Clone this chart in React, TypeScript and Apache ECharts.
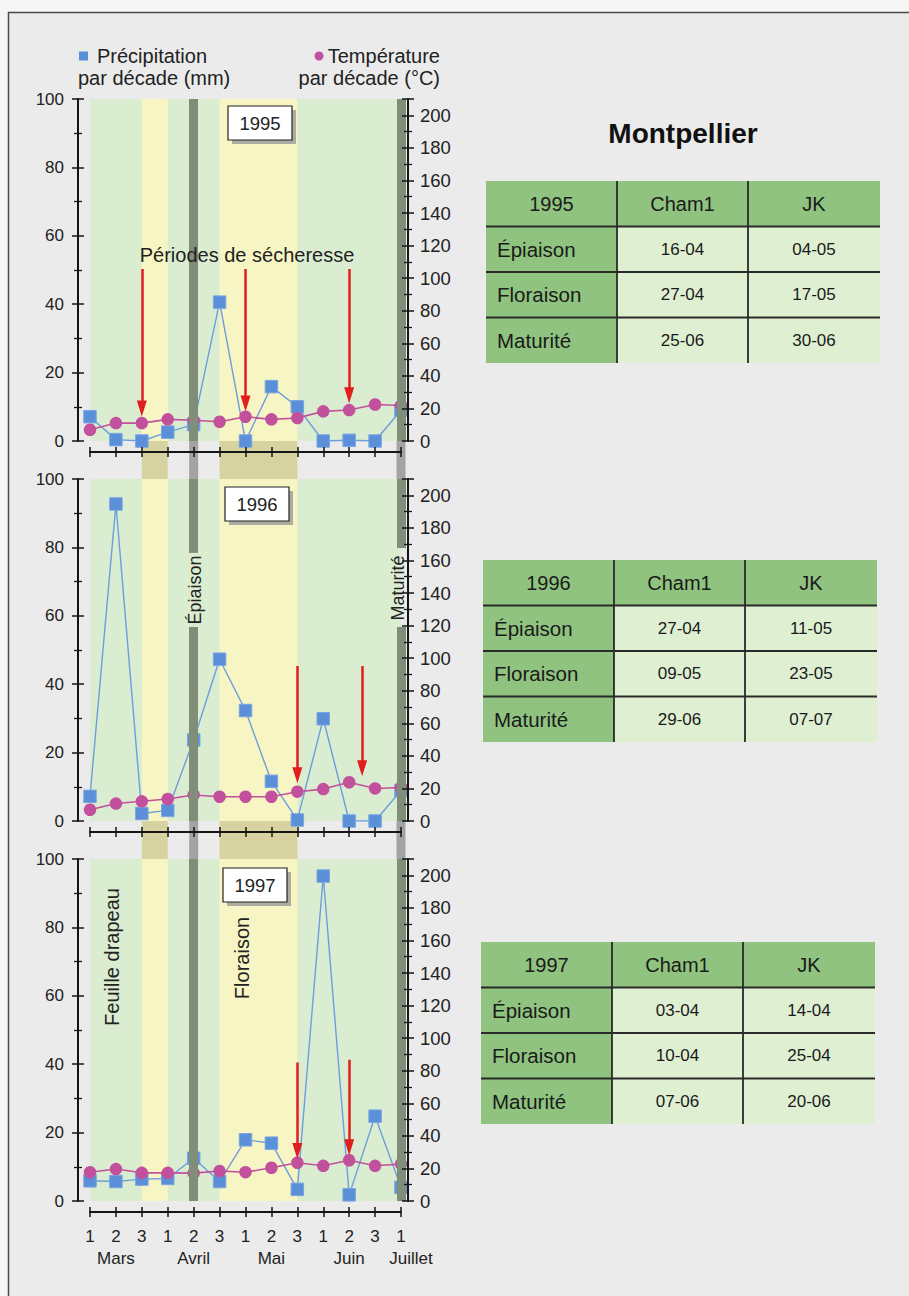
import React, { useEffect, useRef } from 'react';
import * as echarts from 'echarts';

// ---------- data ----------
const decades = ['1', '2', '3', '1', '2', '3', '1', '2', '3', '1', '2', '3', '1'];
const months = ['', 'Mars', '', '', 'Avril', '', '', 'Mai', '', '', 'Juin', '', 'Juillet'];
const years = ['1995', '1996', '1997'];

const precip1995 = [7.1, 0.4, 0, 2.6, 4.8, 40.6, 0, 15.9, 10.0, 0, 0.2, 0, 9.0];
const temp1995 = [6.9, 11.0, 11.0, 13.3, 12.7, 11.8, 14.9, 13.3, 14.1, 18.2, 19.0, 22.4, 21.8];
const precip1996 = [7.2, 92.7, 2.2, 3.1, 23.7, 47.3, 32.3, 11.6, 0.3, 29.9, 0, 0, 8.9];
const temp1996 = [6.9, 10.7, 12.1, 13.5, 16.0, 14.9, 14.9, 14.9, 18.0, 19.6, 23.8, 20.0, 20.6];
const precip1997 = [5.9, 5.7, 6.4, 6.6, 12.5, 5.7, 17.9, 16.9, 3.4, 95.0, 1.8, 24.8, 4.0];
const temp1997 = [17.7, 19.6, 17.3, 17.3, 17.1, 18.4, 17.7, 20.4, 23.5, 21.6, 25.0, 21.6, 22.7];

const precipitation = [precip1995, precip1996, precip1997];
const temperature = [temp1995, temp1996, temp1997];

const precipAxis = { min: 0, max: 100, interval: 20 };
const tempAxis = { min: 0, max: 210, interval: 20 };

// yellow bands (decade index ranges) and stage lines (Épiaison, Maturité)
const dryBands = [[2, 3], [5, 8]];
const stageLines = [4, 12];
// drought arrows: [decade index, start value, tip value] (precipitation scale)
const arrows1995 = [[2, 50.3, 7.1], [6, 50.3, 8.6], [10, 50.3, 11.0]];
const arrows1996 = [[8, 45.3, 11.0], [10.5, 45.3, 13.0]];
const arrows1997 = [[8, 40.5, 12.2], [10, 41.3, 13.3]];
const arrows = [arrows1995, arrows1996, arrows1997];

// tables
const tableHeader = ['Cham1', 'JK'];
const stages = ['Épiaison', 'Floraison', 'Maturité'];
const cham1Dates = [['16-04', '27-04', '25-06'], ['27-04', '09-05', '29-06'], ['03-04', '10-04', '07-06']];
const jkDates = [['04-05', '17-05', '30-06'], ['11-05', '23-05', '07-07'], ['14-04', '25-04', '20-06']];

// ---------- layout / style ----------
const W = 909;
const H = 1296;
const FONT = '"Liberation Sans", Arial, Helvetica, sans-serif';
const GRID_LEFT = 90;
const GRID_W = 311;
const GRID_H = 342;
const GRID_TOPS = [99, 479, 859];
const AX = '#151515';
const TXT = '#222';
const GREEN_BG = '#daedd0';
const YELLOW = '#f7f5c3';
const YELLOW_GAP = '#d7d3a0';
const BAR = '#7f8d79';
const BAR_GAP = '#a3a3a3';
const BLUE = '#5b8fd8';
const BLUE_LINE = '#6c9edc';
const PINK = '#c2509c';
const RED = '#e01e1e';
const TABLE_DARK = '#8fc37f';
const TABLE_LIGHT = '#dff0d2';

function buildOption() {
  const grid: any[] = [];
  const xAxis: any[] = [];
  const yAxis: any[] = [];
  const series: any[] = [];

  for (let g = 0; g < 3; g++) {
    grid.push({
      left: GRID_LEFT, top: GRID_TOPS[g], width: GRID_W, height: GRID_H,
      show: true, backgroundColor: GREEN_BG, borderWidth: 0,
    });
    const xLabel = g === 2
      ? {
          show: true, margin: 16, fontSize: 17, color: TXT, fontFamily: FONT,
          showMinLabel: true, showMaxLabel: true,
          formatter: (v: number) => decades[v],
        }
      : { show: false };
    const xBase = {
      gridIndex: g, type: 'value', min: 0, max: 12, interval: 1,
      position: 'bottom', offset: 11, splitLine: { show: false }, z: 6,
    };
    xAxis.push({
      ...xBase,
      axisLine: { show: true, onZero: false, lineStyle: { color: AX, width: 2 } },
      axisTick: { show: true, length: 5, lineStyle: { color: AX, width: 1.5 } },
      axisLabel: xLabel,
    });
    xAxis.push({
      ...xBase,
      axisLine: { show: false, onZero: false },
      axisTick: { show: true, inside: true, length: 5, lineStyle: { color: AX, width: 1.5 } },
      axisLabel: { show: false },
    });

    const yCommon = (inside: boolean) => ({
      gridIndex: g, type: 'value', splitLine: { show: false }, minorSplitLine: { show: false }, z: 6,
      axisLine: { show: !inside, onZero: false, lineStyle: { color: AX, width: 2 } },
      axisTick: { show: true, inside, length: 6, lineStyle: { color: AX, width: 1.5 } },
      minorTick: { show: true, splitNumber: 2, length: 4, lineStyle: { color: AX, width: 1.3 } },
    });
    // left (precipitation)
    yAxis.push({
      ...yCommon(false), ...precipAxis, position: 'left', offset: 12,
      axisLabel: { margin: 14, fontSize: 17, color: TXT, fontFamily: FONT },
    });
    yAxis.push({ ...yCommon(true), ...precipAxis, position: 'left', offset: 12, axisLabel: { show: false } });
    // right (temperature)
    yAxis.push({
      ...yCommon(false), ...tempAxis, position: 'right', offset: 7,
      axisLabel: {
        margin: 12, fontSize: 18.5, color: TXT, fontFamily: FONT,
        formatter: (v: number) => (v > 200 ? '' : String(v)),
      },
    });
    yAxis.push({ ...yCommon(true), ...tempAxis, position: 'right', offset: 7, axisLabel: { show: false } });

    // background bands + stage lines
    const barData: any[] = [];
    stageLines.forEach((x) => {
      if (g === 1) {
        const breakTop = x === 4 ? 78.4 : 79.8;
        barData.push([{ coord: [x, 100] }, { coord: [x, breakTop] }]);
        barData.push([{ coord: [x, 56.7] }, { coord: [x, 0] }]);
      } else {
        barData.push([{ coord: [x, 100] }, { coord: [x, 0] }]);
      }
    });
    series.push({
      type: 'line', xAxisIndex: 2 * g, yAxisIndex: 4 * g, data: [], z: 1, silent: true, clip: false,
      markArea: {
        silent: true, itemStyle: { color: YELLOW, opacity: 1 },
        label: { show: false },
        data: dryBands.map(([a, b]) => [{ xAxis: a }, { xAxis: b }]),
      },
      markLine: {
        silent: true, symbol: ['none', 'none'], label: { show: false },
        lineStyle: { color: BAR, width: 9, type: 'solid', opacity: 1 },
        emphasis: { disabled: true },
        data: barData,
      },
    });

    // precipitation
    series.push({
      type: 'line', name: 'Précipitation', xAxisIndex: 2 * g, yAxisIndex: 4 * g, z: 3,
      data: precipitation[g].map((v, i) => [i, v]),
      symbol: 'rect', symbolSize: 12.5,
      itemStyle: { color: BLUE, borderColor: '#7aa6e2', borderWidth: 1 },
      lineStyle: { color: BLUE_LINE, width: 1.4 },
    });
    // temperature
    series.push({
      type: 'line', name: 'Température', xAxisIndex: 2 * g, yAxisIndex: 4 * g + 2, z: 4,
      data: temperature[g].map((v, i) => [i, v]),
      symbol: 'circle', symbolSize: 12.5,
      itemStyle: { color: PINK },
      lineStyle: { color: PINK, width: 1.6 },
    });
    // arrows
    series.push({
      type: 'line', xAxisIndex: 2 * g, yAxisIndex: 4 * g, data: [], z: 5, silent: true,
      markLine: {
        silent: true, symbol: ['none', 'triangle'], label: { show: false },
        lineStyle: { color: RED, width: 2.5, type: 'solid', opacity: 1 },
        itemStyle: { color: RED },
        emphasis: { disabled: true },
        data: arrows[g].map(([x, top, tip]) => [
          { coord: [x, top] },
          { coord: [x, tip + 2.4], symbol: 'triangle', symbolSize: [10, 16] },
        ]),
      },
    });
  }

  return {
    animation: false,
    backgroundColor: '#ebebeb',
    grid, xAxis, yAxis, series,
  };
}

function buildGraphics(chart: any) {
  const els: any[] = [];
  // page frame
  els.push({ type: 'rect', shape: { x: 0, y: 0, width: W, height: 12 }, style: { fill: '#f6f6f6' }, silent: true });
  els.push({ type: 'rect', shape: { x: 0, y: 0, width: 8, height: H }, style: { fill: '#f6f6f6' }, silent: true });
  els.push({ type: 'line', shape: { x1: 8, y1: 12.5, x2: W, y2: 12.5 }, style: { stroke: '#4a4a4a', lineWidth: 1.5 }, silent: true });
  els.push({ type: 'line', shape: { x1: 8.5, y1: 12, x2: 8.5, y2: H }, style: { stroke: '#4a4a4a', lineWidth: 1.5 }, silent: true });

  // bands in the gaps between panels
  for (let g = 0; g < 2; g++) {
    const y0 = chart.convertToPixel({ yAxisIndex: 4 * g }, 0);
    const y1 = chart.convertToPixel({ yAxisIndex: 4 * (g + 1) }, 100);
    const px = (v: number) => chart.convertToPixel({ xAxisIndex: 2 * g }, v);
    dryBands.forEach(([a, b]) => {
      els.push({ type: 'rect', z: 0, silent: true, shape: { x: px(a), y: y0, width: px(b) - px(a), height: y1 - y0 }, style: { fill: YELLOW_GAP } });
    });
    stageLines.forEach((x) => {
      els.push({ type: 'rect', z: 0, silent: true, shape: { x: px(x) - 4.5, y: y0, width: 9, height: y1 - y0 }, style: { fill: BAR_GAP } });
    });
  }

  // month names under the bottom axis (centred on the middle decade)
  const yAxisBottom = chart.convertToPixel({ yAxisIndex: 8 }, 0);
  months.forEach((m, i) => {
    if (!m) return;
    const x = chart.convertToPixel({ xAxisIndex: 4 }, i) + (m === 'Juillet' ? 10 : 0);
    els.push({ type: 'text', z: 10, x, y: yAxisBottom + 57, style: { text: m, fontSize: 17, fontFamily: FONT, fill: TXT, align: 'center', verticalAlign: 'middle' } });
  });

  const F = 20;
  // legend
  els.push({ type: 'rect', z: 10, shape: { x: 79, y: 51.5, width: 9, height: 9 }, style: { fill: BLUE } });
  els.push({ type: 'text', z: 10, x: 97, y: 56, style: { text: 'Précipitation', fontSize: F, fontFamily: FONT, fill: TXT, verticalAlign: 'middle' } });
  els.push({ type: 'text', z: 10, x: 78, y: 78, style: { text: 'par décade (mm)', fontSize: F, fontFamily: FONT, fill: TXT, verticalAlign: 'middle' } });
  els.push({ type: 'circle', z: 10, shape: { cx: 319, cy: 56, r: 4.5 }, style: { fill: PINK } });
  els.push({ type: 'text', z: 10, x: 440, y: 56, style: { text: 'Température', fontSize: F, fontFamily: FONT, fill: TXT, align: 'right', verticalAlign: 'middle' } });
  els.push({ type: 'text', z: 10, x: 440, y: 78, style: { text: 'par décade (°C)', fontSize: F, fontFamily: FONT, fill: TXT, align: 'right', verticalAlign: 'middle' } });

  // year boxes
  const boxes = [[228, 106], [225, 487], [223, 868]];
  boxes.forEach(([bx, by], i) => {
    els.push({ type: 'rect', z: 10, silent: true, shape: { x: bx + 4, y: by + 4, width: 64, height: 34 }, style: { fill: '#9a9a9a', opacity: 0.8 } });
    els.push({ type: 'rect', z: 11, silent: true, shape: { x: bx, y: by, width: 64, height: 34 }, style: { fill: '#ffffff', stroke: '#222', lineWidth: 1.2 } });
    els.push({ type: 'text', z: 12, x: bx + 32, y: by + 17, style: { text: years[i], fontSize: 18.5, fontFamily: FONT, fill: TXT, align: 'center', verticalAlign: 'middle' } });
  });

  // annotations
  els.push({ type: 'text', z: 10, x: 247, y: 255, style: { text: 'Périodes de sécheresse', fontSize: F, fontFamily: FONT, fill: TXT, align: 'center', verticalAlign: 'middle' } });
  const rot = (text: string, x: number, y: number, size: number) => ({
    type: 'text', z: 10, x, y, rotation: Math.PI / 2,
    style: { text, fontSize: size, fontFamily: FONT, fill: TXT, align: 'center', verticalAlign: 'middle' },
  });
  els.push(rot('Épiaison', 195, 590, 18));
  els.push(rot('Maturité', 398, 588, 18));
  els.push(rot('Feuille drapeau', 112, 957, 20));
  els.push(rot('Floraison', 242, 958, 20));

  // title
  els.push({ type: 'text', z: 10, x: 683, y: 133, style: { text: 'Montpellier', fontSize: 28, fontWeight: 'bold', fontFamily: FONT, fill: '#111', align: 'center', verticalAlign: 'middle' } });

  // tables
  const tPos = [[486, 181], [483, 560], [481, 942]];
  const colW = [131, 131, 132];
  const rowH = 45.5;
  tPos.forEach(([tx, ty], t) => {
    const totalW = colW[0] + colW[1] + colW[2];
    for (let r = 0; r < 4; r++) {
      let cx = tx;
      for (let c = 0; c < 3; c++) {
        const dark = r === 0 || c === 0;
        els.push({ type: 'rect', z: 8, silent: true, shape: { x: cx, y: ty + r * rowH, width: colW[c], height: rowH }, style: { fill: dark ? TABLE_DARK : TABLE_LIGHT } });
        let text = '';
        let align = 'center';
        let tx2 = cx + colW[c] / 2;
        let size = 17;
        if (r === 0) {
          text = c === 0 ? years[t] : tableHeader[c - 1];
          size = 20;
        } else if (c === 0) {
          text = stages[r - 1];
          align = 'left';
          tx2 = cx + 11;
          size = 20.5;
        } else {
          text = c === 1 ? cham1Dates[t][r - 1] : jkDates[t][r - 1];
        }
        els.push({ type: 'text', z: 9, x: tx2, y: ty + r * rowH + rowH / 2, style: { text, fontSize: size, fontFamily: FONT, fill: '#1a1a1a', align, verticalAlign: 'middle' } });
        cx += colW[c];
      }
    }
    for (let r = 1; r < 4; r++) {
      const y = ty + r * rowH;
      els.push({ type: 'line', z: 9, silent: true, shape: { x1: tx, y1: y, x2: tx + totalW, y2: y }, style: { stroke: '#2a2a2a', lineWidth: 1.8 } });
    }
    [colW[0], colW[0] + colW[1]].forEach((dx) => {
      els.push({ type: 'line', z: 9, silent: true, shape: { x1: tx + dx, y1: ty, x2: tx + dx, y2: ty + 4 * rowH }, style: { stroke: '#2a2a2a', lineWidth: 1.8 } });
    });
  });

  return els;
}

export default function App() {
  const ref = useRef<HTMLDivElement>(null);
  useEffect(() => {
    document.body.style.margin = '0';
    const chart = echarts.init(ref.current as HTMLDivElement, null, { renderer: 'svg' });
    chart.setOption(buildOption() as any);
    chart.setOption({ graphic: { elements: buildGraphics(chart) } } as any);
    return () => chart.dispose();
  }, []);
  return <div ref={ref} style={{ width: W, height: H }} />;
}
